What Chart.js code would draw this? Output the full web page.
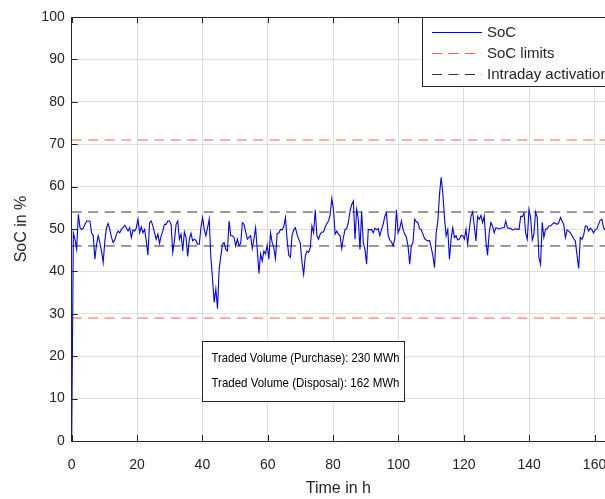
<!DOCTYPE html>
<html lang="en">
<head>
  <meta charset="UTF-8" />
  <title>SoC over time</title>
  <script src="https://cdn.jsdelivr.net/npm/chart.js"></script>
  <style>
    html, body {
      margin: 0;
      padding: 0;
      background: #fff;
      overflow: hidden;
    }
    #wrap {
      width: 605px;
      height: 499px;
    }
  </style>
</head>
<body>
  <div id="wrap"><canvas id="socChart" width="605" height="499"></canvas></div>

<script>
  // SoC, one sample per ~half hour
  const sampleStepH = 0.507;
  const soc = [
    0, 49.1, 47.5, 45.2, 53.5, 50.3, 49.9, 50.2, 51.1, 51.9, 51.9, 51.9, 49.1, 48.4, 42.9, 46.4,
    48.4, 46.8, 44.8, 42.1, 47.2, 50.3, 51.3, 49.9, 48, 46.8, 47.4, 48.8, 49.5, 49.1, 49.9, 50.3,
    50.9, 50.3, 49.5, 50.3, 48, 49.8, 49.5, 50.3, 52.3, 49.1, 50.5, 49.1, 49.9, 47.2, 43.8, 51.5,
    51.9, 50.7, 49.1, 47.6, 48.8, 46.6, 48.4, 49.5, 51.1, 51.1, 51.9, 51.9, 51.1, 44.5, 47.2, 51.1,
    51.9, 47.6, 48.8, 44.8, 49.3, 48, 43.5, 47.6, 49, 47.2, 47.6, 47.3, 46.4, 46.4, 50.3, 52.7,
    49.9, 48.4, 50.3, 52.3, 43.3, 38.2, 32.7, 35.9, 31.2, 40.5, 43.6, 46.4, 46.8, 45.2, 44.8, 51.9,
    48.4, 48.4, 48, 46, 47.6, 46, 46.6, 51.5, 51.1, 49.3, 47.6, 48, 48.4, 45.4, 47.6, 50.3,
    45.2, 39.5, 44.1, 42.5, 44.8, 44.1, 46.2, 42.9, 49.1, 46.8, 45.6, 43, 49, 49, 49.9, 49.8,
    50.5, 52.7, 47.6, 43.8, 43.3, 48.5, 49.8, 50.3, 48.8, 47.6, 46.6, 42.1, 39.3, 43.6, 44.8, 44.5,
    45.6, 50.7, 49.1, 54.5, 48.4, 47.6, 48.8, 49.3, 49.3, 50.5, 51.3, 51.9, 53.3, 57.2, 54.6, 48.8,
    49.5, 48.8, 48.4, 45.4, 48, 49.9, 50.1, 51.6, 54.2, 55.8, 56.6, 47.6, 54.6, 52.3, 45.2, 54.2,
    46.8, 45.2, 41.7, 49.9, 49.8, 49.9, 49.1, 50.2, 49.8, 50.1, 48.4, 49.9, 51.1, 53, 53.8, 48.5,
    47.4, 47, 46, 47.6, 54.5, 49.1, 50.1, 51.9, 49.9, 48.8, 48.1, 46, 41.7, 46, 46.8, 52.3,
    51.7, 51.5, 50.1, 49.8, 48.8, 47.7, 47.4, 47.2, 47.3, 45.6, 43.7, 40.9, 49.1, 51.9, 58.1, 62.2,
    58.5, 52.7, 48.4, 49.9, 42.9, 47.6, 50.3, 48, 48.4, 47.4, 47.6, 48.4, 48.5, 47.6, 49.9, 46.4,
    49.9, 53, 54, 50.7, 47.2, 53, 52.3, 53.2, 51.5, 53, 47.2, 43.8, 49.1, 51.5, 50.7, 49.1,
    50.3, 50.2, 50, 50.2, 50.3, 50.3, 51.9, 50.3, 50.2, 50.1, 49.8, 49.9, 50.1, 49.9, 49.9, 53,
    52.9, 53.8, 49.1, 47.6, 54.6, 52.7, 47.4, 48.8, 54, 52.7, 43.3, 41.7, 51.6, 48, 49.9, 50.1,
    50.7, 50.7, 51.1, 51.5, 51.3, 51.1, 51.5, 52.7, 51.9, 51.1, 48, 49.8, 49.5, 49.1, 48.4, 47.7,
    47.2, 43.8, 40.7, 48, 47.6, 48.5, 50.7, 50.7, 49.5, 50.2, 49.8, 49.1, 49.8, 50.1, 51.1, 52.1,
    52.3, 50.3, 49.8, 50.1, 49.5, 49.9, 48.4
  ];
  const times = soc.map((_, i) => i * sampleStepH);

  const socLimits = [29, 71];
  const intradayBand = [46, 54];
  const xRange = [0, 163.2];
  const yRange = [0, 100];
  const xTicks = [0, 20, 40, 60, 80, 100, 120, 140, 160];
  const yTicks = [0, 10, 20, 30, 40, 50, 60, 70, 80, 90, 100];

  const legendItems = ['SoC', 'SoC limits', 'Intraday activation'];
  const infoLines = [
    'Traded Volume (Purchase): 230 MWh',
    'Traded Volume (Disposal): 162 MWh'
  ];

  const FONT = '"Liberation Sans", Arial, Helvetica, sans-serif';
  const INK = '#262626';
  const RED = 'rgba(255, 0, 0, 0.65)';
  const BLACK_DASH = 'rgba(0, 0, 0, 0.8)';
  const DASH = [10, 6.5];

  const hLine = (v) => [{ x: xRange[0], y: v }, { x: xRange[1], y: v }];

  const datasets = [
    {
      label: legendItems[0],
      data: times.map((t, i) => ({ x: t, y: soc[i] })),
      borderColor: '#0000ff', borderWidth: 1.1, pointRadius: 0, tension: 0
    },
    ...socLimits.map(v => ({
      label: legendItems[1], data: hLine(v),
      borderColor: RED, borderWidth: 1, borderDash: DASH, pointRadius: 0
    })),
    ...intradayBand.map(v => ({
      label: legendItems[2], data: hLine(v),
      borderColor: BLACK_DASH, borderWidth: 1, borderDash: DASH, pointRadius: 0
    }))
  ];

  // matlab-ish box: inward ticks + top line, then legend and text box
  const overlay = {
    id: 'overlay',
    afterDraw(chart) {
      const { ctx, chartArea: a, scales: { x, y } } = chart;
      ctx.save();
      ctx.strokeStyle = INK;
      ctx.lineWidth = 1;
      ctx.beginPath();
      ctx.moveTo(a.left, a.top + 0.5);
      ctx.lineTo(a.right, a.top + 0.5);
      y.ticks.forEach(t => {
        const py = Math.round(y.getPixelForValue(t.value)) + 0.5;
        ctx.moveTo(a.left, py);
        ctx.lineTo(a.left + 6, py);
      });
      x.ticks.forEach(t => {
        const px = Math.round(x.getPixelForValue(t.value)) + 0.5;
        ctx.moveTo(px, a.bottom);
        ctx.lineTo(px, a.bottom - 6);
        ctx.moveTo(px, a.top);
        ctx.lineTo(px, a.top + 6);
      });
      ctx.stroke();

      // legend (runs past the right edge like the original)
      const lx = 422.5, ly = a.top + 0.5, lw = 220, lh = 69;
      ctx.fillStyle = '#fff';
      ctx.fillRect(lx, ly, lw, lh);
      ctx.strokeStyle = INK;
      ctx.strokeRect(lx, ly, lw, lh);
      const styles = [
        { c: '#0000ff', d: [] },
        { c: RED, d: DASH },
        { c: BLACK_DASH, d: DASH }
      ];
      ctx.font = '15px ' + FONT;
      ctx.textBaseline = 'middle';
      legendItems.forEach((txt, i) => {
        const yy = Math.round(ly + 14 + i * 21) + 0.5;
        ctx.strokeStyle = styles[i].c;
        ctx.setLineDash(styles[i].d);
        ctx.beginPath();
        ctx.moveTo(432, yy);
        ctx.lineTo(482, yy);
        ctx.stroke();
        ctx.setLineDash([]);
        ctx.fillStyle = INK;
        ctx.fillText(txt, 487, yy);
      });

      // traded volume box
      const bx = Math.round(x.getPixelForValue(40)) + 0.5;
      const bx2 = Math.round(x.getPixelForValue(101.6)) + 0.5;
      const by = Math.round(y.getPixelForValue(23.6)) + 0.5;
      const by2 = Math.round(y.getPixelForValue(9.4)) + 0.5;
      ctx.fillStyle = '#fff';
      ctx.fillRect(bx, by, bx2 - bx, by2 - by);
      ctx.strokeStyle = INK;
      ctx.strokeRect(bx, by, bx2 - bx, by2 - by);
      ctx.fillStyle = '#000';
      ctx.font = '13px ' + FONT;
      infoLines.forEach((txt, i) => {
        ctx.fillText(txt, bx + 9, by + 17 + i * 25, bx2 - bx - 14);
      });
      ctx.restore();
    }
  };

  const tickFont = { family: FONT, size: 14 };
  const titleFont = { family: FONT, size: 16 };
  const gridColor = 'rgba(38, 38, 38, 0.15)';

  new Chart(document.getElementById('socChart'), {
    type: 'line',
    data: { datasets },
    options: {
      responsive: false,
      animation: false,
      layout: { padding: { top: 17, right: 0, left: 0, bottom: 0 } },
      plugins: { legend: { display: false }, tooltip: { enabled: false } },
      scales: {
        x: {
          type: 'linear', min: xRange[0], max: xRange[1],
          ticks: { padding: 16, color: INK, font: tickFont, maxRotation: 0, autoSkip: false },
          grid: { color: gridColor, drawTicks: false },
          border: { color: INK, width: 1 },
          title: { display: true, text: 'Time in h', color: INK, font: titleFont, padding: { top: 0, bottom: 1 } },
          afterBuildTicks: s => { s.ticks = xTicks.map(v => ({ value: v })); },
          afterFit: s => { s.height = 58; s.paddingLeft = 0; s.paddingRight = 0; }
        },
        y: {
          min: yRange[0], max: yRange[1],
          ticks: { padding: 7, color: INK, font: tickFont },
          grid: { color: gridColor, drawTicks: false },
          border: { color: INK, width: 1 },
          title: { display: true, text: 'SoC in %', color: INK, font: titleFont, padding: { top: 12, bottom: 0 } },
          afterBuildTicks: s => { s.ticks = yTicks.map(v => ({ value: v })); },
          afterFit: s => { s.width = 71.7; s.paddingTop = 0; s.paddingBottom = 0; }
        }
      }
    },
    plugins: [overlay]
  });
</script>
</body>
</html>
